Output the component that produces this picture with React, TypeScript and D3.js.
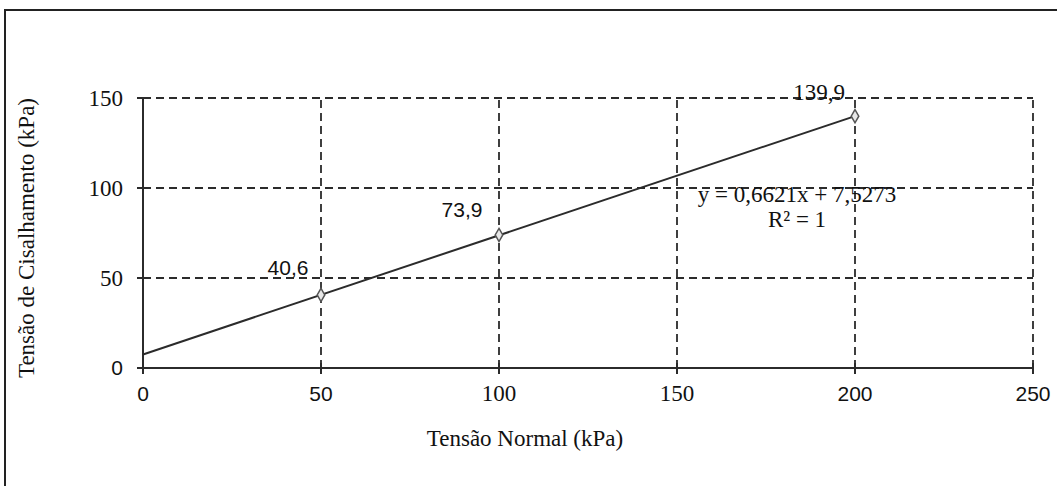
import React from "react";
import * as d3 from "d3";

// ---- data ----
const normalStress = [50, 100, 200];
const shearStress = [40.6, 73.9, 139.9];
const pointLabels = ["40,6", "73,9", "139,9"];
const xTicks = [0, 50, 100, 150, 200, 250];
const yTicks = [0, 50, 100, 150];
const trendSlope = 0.6621;
const trendIntercept = 7.5273;
const trendRange = [0, 200];
const equationLines = ["y = 0,6621x + 7,5273", "R² = 1"];
const xTitle = "Tensão Normal (kPa)";
const yTitle = "Tensão de Cisalhamento (kPa)";

// labels that render in a sans face in the reference
const sansXTicks = new Set([0, 50, 200, 250]);
const sansYTicks = new Set([0]);
const sansPointLabels = new Set([0, 1]);

const W = 1057;
const H = 486;
const SERIF = "'Liberation Serif', 'Times New Roman', serif";
const SANS = "'Liberation Sans', Arial, sans-serif";
const FS = 23;
const FS_SANS = 21;
const INK = "#2b2b2b";

export default function App() {
  const x = d3.scaleLinear().domain([0, 250]).range([143, 1033]);
  const y = d3.scaleLinear().domain([0, 150]).range([368, 98]);

  const trend = d3
    .line<number>()
    .x((d) => x(d))
    .y((d) => y(trendSlope * d + trendIntercept));

  const diamond = d3.symbol().type(d3.symbolDiamond).size(50)();

  // label offsets relative to point (px)
  const labelOffsets = [
    [-33, -20],
    [-37, -18],
    [-36, -16],
  ];

  return (
    <svg
      width={W}
      height={H}
      style={{ position: "absolute", left: 0, top: 0, background: "#fff" }}
    >
      <rect x={0} y={0} width={W} height={H} fill="#fff" />
      {/* outer chart border (right/bottom clipped) */}
      <rect
        x={5}
        y={10}
        width={W + 50}
        height={H + 50}
        fill="none"
        stroke="#222"
        strokeWidth={2}
      />

      {/* horizontal gridlines */}
      {yTicks
        .filter((t) => t > 0)
        .map((t) => (
          <line
            key={"hg" + t}
            x1={x(0)}
            x2={x(250)}
            y1={y(t)}
            y2={y(t)}
            stroke={INK}
            strokeWidth={1.8}
            strokeDasharray="8,5"
          />
        ))}
      {/* vertical gridlines */}
      {xTicks
        .filter((t) => t > 0)
        .map((t) => (
          <line
            key={"vg" + t}
            x1={x(t)}
            x2={x(t)}
            y1={y(0)}
            y2={y(150)}
            stroke={INK}
            strokeWidth={1.8}
            strokeDasharray="8,5"
          />
        ))}

      {/* axes */}
      <line x1={x(0)} x2={x(0)} y1={y(0)} y2={y(150)} stroke={INK} strokeWidth={2} />
      <line x1={x(0)} x2={x(250)} y1={y(0)} y2={y(0)} stroke={INK} strokeWidth={2} />
      {yTicks.map((t) => (
        <line
          key={"yt" + t}
          x1={x(0) - 6}
          x2={x(0) + 4}
          y1={y(t)}
          y2={y(t)}
          stroke={INK}
          strokeWidth={2}
        />
      ))}
      {xTicks.map((t) => (
        <line
          key={"xt" + t}
          x1={x(t)}
          x2={x(t)}
          y1={y(0) - 5}
          y2={y(0) + 6}
          stroke={INK}
          strokeWidth={2}
        />
      ))}

      {/* tick labels */}
      {yTicks.map((t) => (
        <text
          key={"yl" + t}
          x={x(0) - 20}
          y={y(t)}
          dy="0.35em"
          textAnchor="end"
          fontFamily={sansYTicks.has(t) ? SANS : SERIF}
          fontSize={sansYTicks.has(t) ? FS_SANS : FS}
          fill="#111"
        >
          {t}
        </text>
      ))}
      {xTicks.map((t) => (
        <text
          key={"xl" + t}
          x={x(t)}
          y={y(0) + 33}
          textAnchor="middle"
          fontFamily={sansXTicks.has(t) ? SANS : SERIF}
          fontSize={sansXTicks.has(t) ? FS_SANS : FS}
          fill="#111"
        >
          {t}
        </text>
      ))}

      {/* trend line */}
      <path d={trend(trendRange) || ""} fill="none" stroke={INK} strokeWidth={2} />

      {/* markers */}
      {normalStress.map((v, i) => (
        <path
          key={"m" + i}
          d={diamond || ""}
          transform={`translate(${x(v)},${y(shearStress[i])})`}
          fill="#e8e8e8"
          stroke="#555"
          strokeWidth={1.5}
        />
      ))}

      {/* data labels */}
      {normalStress.map((v, i) => (
        <text
          key={"dl" + i}
          x={x(v) + labelOffsets[i][0]}
          y={y(shearStress[i]) + labelOffsets[i][1]}
          textAnchor="middle"
          fontFamily={sansPointLabels.has(i) ? SANS : SERIF}
          fontSize={sansPointLabels.has(i) ? FS_SANS : FS}
          fill="#111"
        >
          {pointLabels[i]}
        </text>
      ))}

      {/* trendline equation */}
      {equationLines.map((s, i) => (
        <text
          key={"eq" + i}
          x={797}
          y={202 + i * 25}
          textAnchor="middle"
          fontFamily={SERIF}
          fontSize={FS}
          fill="#111"
        >
          {s}
        </text>
      ))}

      {/* axis titles */}
      <text
        x={525}
        y={446}
        textAnchor="middle"
        fontFamily={SERIF}
        fontSize={FS}
        fill="#111"
      >
        {xTitle}
      </text>
      <text
        transform={`translate(34, ${(y(0) + y(150)) / 2 + 5}) rotate(-90)`}
        textAnchor="middle"
        fontFamily={SERIF}
        fontSize={FS}
        fill="#111"
      >
        {yTitle}
      </text>
    </svg>
  );
}
